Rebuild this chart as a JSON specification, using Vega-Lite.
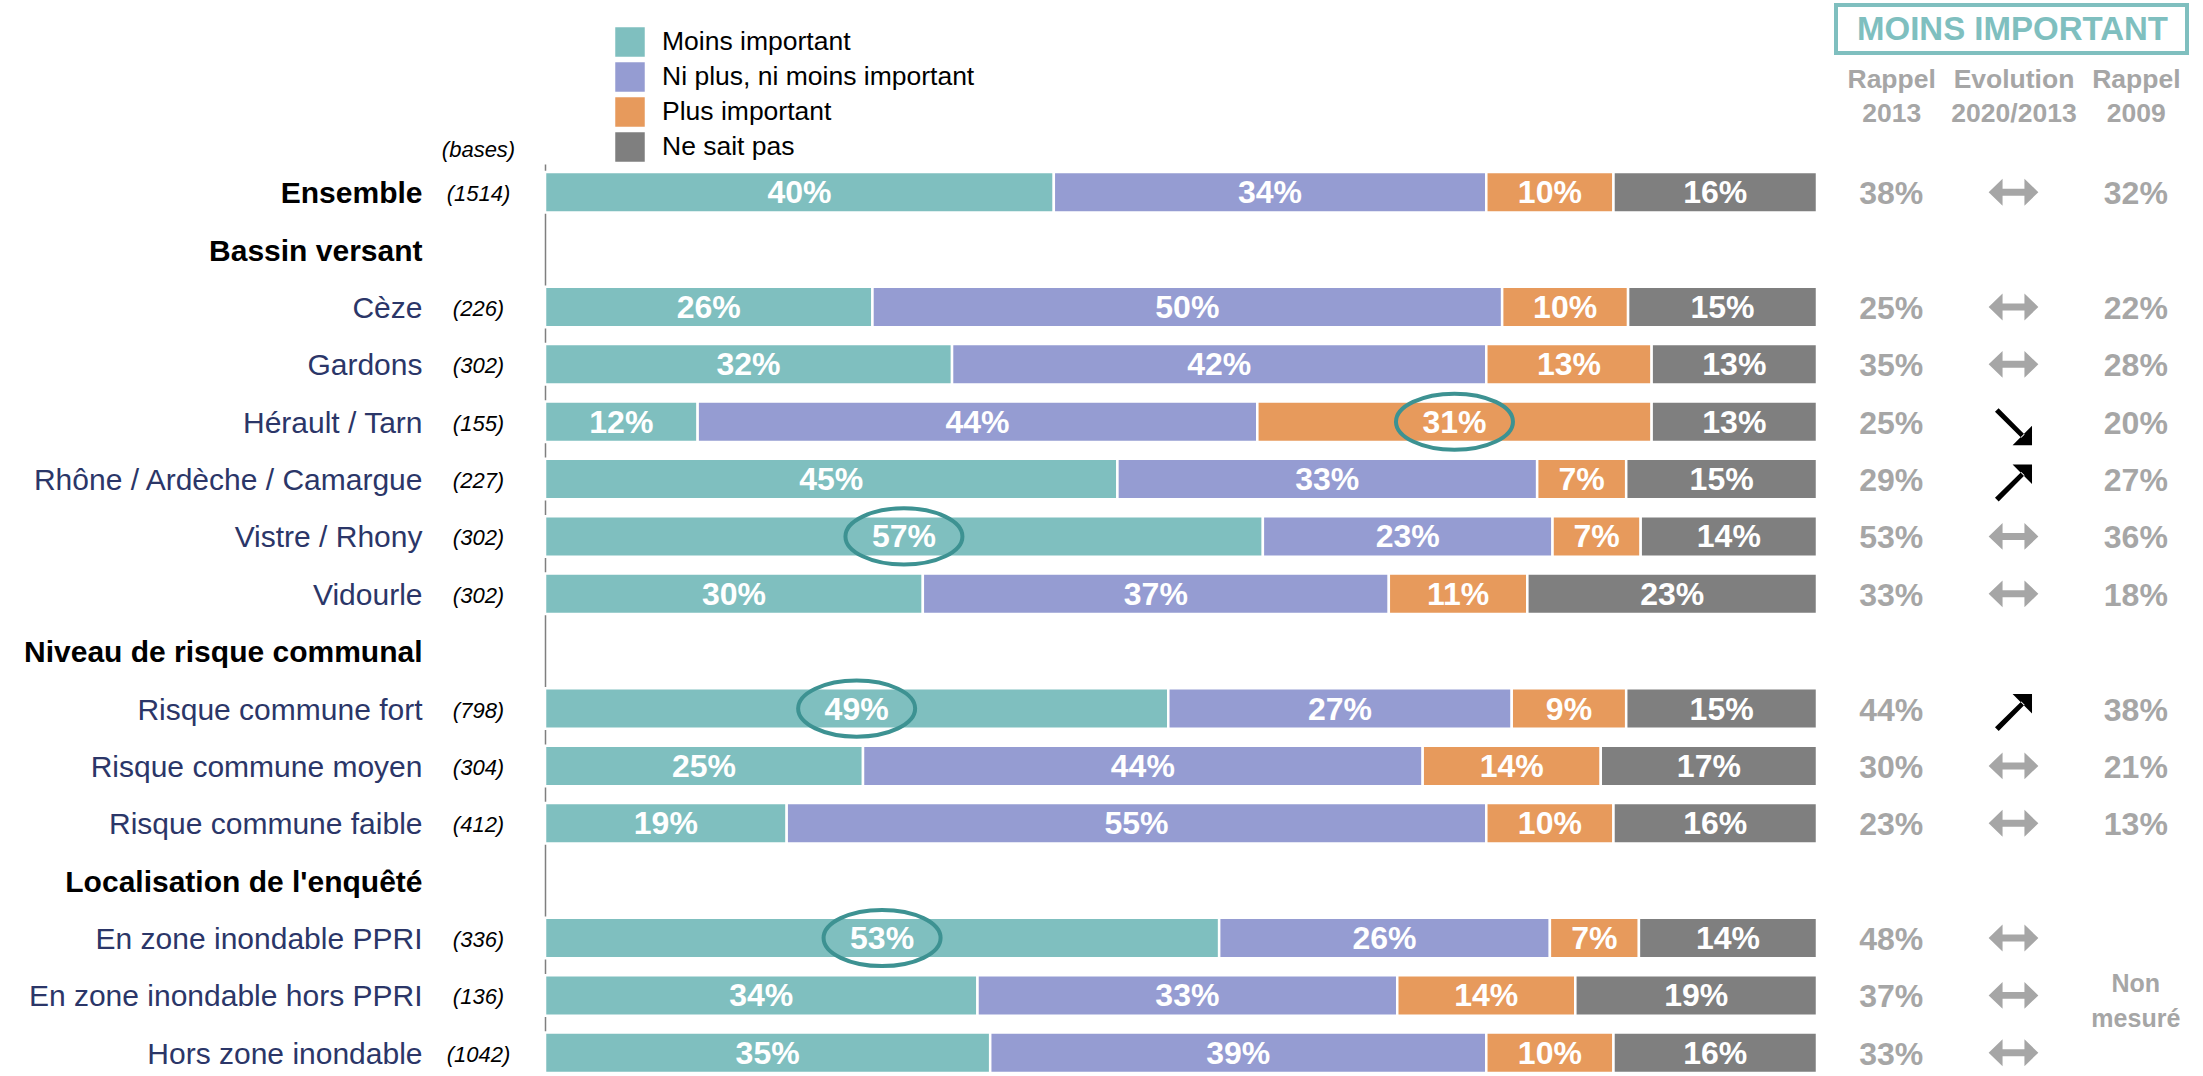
{
  "$schema": "https://vega.github.io/schema/vega-lite/v6.json",
  "width": 1272,
  "height": 909,
  "autosize": {"type": "none"},
  "padding": {"left": 545, "top": 164, "right": 386, "bottom": 3},
  "background": "white",
  "config": {
    "view": {"stroke": null},
    "font": "Liberation Sans",
    "legend": {"strokeWidth": 4}
  },
  "datasets": {
    "bars": [
      {"row": "Ensemble (1514)", "cat": "Moins important", "k": 1, "pct": 0.40},
      {"row": "Ensemble (1514)", "cat": "Ni plus, ni moins important", "k": 2, "pct": 0.34},
      {"row": "Ensemble (1514)", "cat": "Plus important", "k": 3, "pct": 0.10},
      {"row": "Ensemble (1514)", "cat": "Ne sait pas", "k": 4, "pct": 0.16},
      {"row": "Cèze (226)", "cat": "Moins important", "k": 1, "pct": 0.26},
      {"row": "Cèze (226)", "cat": "Ni plus, ni moins important", "k": 2, "pct": 0.50},
      {"row": "Cèze (226)", "cat": "Plus important", "k": 3, "pct": 0.10},
      {"row": "Cèze (226)", "cat": "Ne sait pas", "k": 4, "pct": 0.15},
      {"row": "Gardons (302)", "cat": "Moins important", "k": 1, "pct": 0.32},
      {"row": "Gardons (302)", "cat": "Ni plus, ni moins important", "k": 2, "pct": 0.42},
      {"row": "Gardons (302)", "cat": "Plus important", "k": 3, "pct": 0.13},
      {"row": "Gardons (302)", "cat": "Ne sait pas", "k": 4, "pct": 0.13},
      {"row": "Hérault / Tarn (155)", "cat": "Moins important", "k": 1, "pct": 0.12},
      {"row": "Hérault / Tarn (155)", "cat": "Ni plus, ni moins important", "k": 2, "pct": 0.44},
      {"row": "Hérault / Tarn (155)", "cat": "Plus important", "k": 3, "pct": 0.31, "sig": true},
      {"row": "Hérault / Tarn (155)", "cat": "Ne sait pas", "k": 4, "pct": 0.13},
      {"row": "Rhône / Ardèche / Camargue (227)", "cat": "Moins important", "k": 1, "pct": 0.45},
      {"row": "Rhône / Ardèche / Camargue (227)", "cat": "Ni plus, ni moins important", "k": 2, "pct": 0.33},
      {"row": "Rhône / Ardèche / Camargue (227)", "cat": "Plus important", "k": 3, "pct": 0.07},
      {"row": "Rhône / Ardèche / Camargue (227)", "cat": "Ne sait pas", "k": 4, "pct": 0.15},
      {"row": "Vistre / Rhony (302)", "cat": "Moins important", "k": 1, "pct": 0.57, "sig": true},
      {"row": "Vistre / Rhony (302)", "cat": "Ni plus, ni moins important", "k": 2, "pct": 0.23},
      {"row": "Vistre / Rhony (302)", "cat": "Plus important", "k": 3, "pct": 0.07},
      {"row": "Vistre / Rhony (302)", "cat": "Ne sait pas", "k": 4, "pct": 0.14},
      {"row": "Vidourle (302)", "cat": "Moins important", "k": 1, "pct": 0.30},
      {"row": "Vidourle (302)", "cat": "Ni plus, ni moins important", "k": 2, "pct": 0.37},
      {"row": "Vidourle (302)", "cat": "Plus important", "k": 3, "pct": 0.11},
      {"row": "Vidourle (302)", "cat": "Ne sait pas", "k": 4, "pct": 0.23},
      {"row": "Risque commune fort (798)", "cat": "Moins important", "k": 1, "pct": 0.49, "sig": true},
      {"row": "Risque commune fort (798)", "cat": "Ni plus, ni moins important", "k": 2, "pct": 0.27},
      {"row": "Risque commune fort (798)", "cat": "Plus important", "k": 3, "pct": 0.09},
      {"row": "Risque commune fort (798)", "cat": "Ne sait pas", "k": 4, "pct": 0.15},
      {"row": "Risque commune moyen (304)", "cat": "Moins important", "k": 1, "pct": 0.25},
      {"row": "Risque commune moyen (304)", "cat": "Ni plus, ni moins important", "k": 2, "pct": 0.44},
      {"row": "Risque commune moyen (304)", "cat": "Plus important", "k": 3, "pct": 0.14},
      {"row": "Risque commune moyen (304)", "cat": "Ne sait pas", "k": 4, "pct": 0.17},
      {"row": "Risque commune faible (412)", "cat": "Moins important", "k": 1, "pct": 0.19},
      {"row": "Risque commune faible (412)", "cat": "Ni plus, ni moins important", "k": 2, "pct": 0.55},
      {"row": "Risque commune faible (412)", "cat": "Plus important", "k": 3, "pct": 0.10},
      {"row": "Risque commune faible (412)", "cat": "Ne sait pas", "k": 4, "pct": 0.16},
      {"row": "En zone inondable PPRI (336)", "cat": "Moins important", "k": 1, "pct": 0.53, "sig": true},
      {"row": "En zone inondable PPRI (336)", "cat": "Ni plus, ni moins important", "k": 2, "pct": 0.26},
      {"row": "En zone inondable PPRI (336)", "cat": "Plus important", "k": 3, "pct": 0.07},
      {"row": "En zone inondable PPRI (336)", "cat": "Ne sait pas", "k": 4, "pct": 0.14},
      {"row": "En zone inondable hors PPRI (136)", "cat": "Moins important", "k": 1, "pct": 0.34},
      {"row": "En zone inondable hors PPRI (136)", "cat": "Ni plus, ni moins important", "k": 2, "pct": 0.33},
      {"row": "En zone inondable hors PPRI (136)", "cat": "Plus important", "k": 3, "pct": 0.14},
      {"row": "En zone inondable hors PPRI (136)", "cat": "Ne sait pas", "k": 4, "pct": 0.19},
      {"row": "Hors zone inondable (1042)", "cat": "Moins important", "k": 1, "pct": 0.35},
      {"row": "Hors zone inondable (1042)", "cat": "Ni plus, ni moins important", "k": 2, "pct": 0.39},
      {"row": "Hors zone inondable (1042)", "cat": "Plus important", "k": 3, "pct": 0.10},
      {"row": "Hors zone inondable (1042)", "cat": "Ne sait pas", "k": 4, "pct": 0.16}
    ],
    "rappel": [
      {"row": "Ensemble (1514)", "col": "Rappel 2013", "val": "38%"},
      {"row": "Ensemble (1514)", "col": "Evolution 2020/2013", "val": "stable"},
      {"row": "Ensemble (1514)", "col": "Rappel 2009", "val": "32%"},
      {"row": "Cèze (226)", "col": "Rappel 2013", "val": "25%"},
      {"row": "Cèze (226)", "col": "Evolution 2020/2013", "val": "stable"},
      {"row": "Cèze (226)", "col": "Rappel 2009", "val": "22%"},
      {"row": "Gardons (302)", "col": "Rappel 2013", "val": "35%"},
      {"row": "Gardons (302)", "col": "Evolution 2020/2013", "val": "stable"},
      {"row": "Gardons (302)", "col": "Rappel 2009", "val": "28%"},
      {"row": "Hérault / Tarn (155)", "col": "Rappel 2013", "val": "25%"},
      {"row": "Hérault / Tarn (155)", "col": "Evolution 2020/2013", "val": "baisse"},
      {"row": "Hérault / Tarn (155)", "col": "Rappel 2009", "val": "20%"},
      {"row": "Rhône / Ardèche / Camargue (227)", "col": "Rappel 2013", "val": "29%"},
      {"row": "Rhône / Ardèche / Camargue (227)", "col": "Evolution 2020/2013", "val": "hausse"},
      {"row": "Rhône / Ardèche / Camargue (227)", "col": "Rappel 2009", "val": "27%"},
      {"row": "Vistre / Rhony (302)", "col": "Rappel 2013", "val": "53%"},
      {"row": "Vistre / Rhony (302)", "col": "Evolution 2020/2013", "val": "stable"},
      {"row": "Vistre / Rhony (302)", "col": "Rappel 2009", "val": "36%"},
      {"row": "Vidourle (302)", "col": "Rappel 2013", "val": "33%"},
      {"row": "Vidourle (302)", "col": "Evolution 2020/2013", "val": "stable"},
      {"row": "Vidourle (302)", "col": "Rappel 2009", "val": "18%"},
      {"row": "Risque commune fort (798)", "col": "Rappel 2013", "val": "44%"},
      {"row": "Risque commune fort (798)", "col": "Evolution 2020/2013", "val": "hausse"},
      {"row": "Risque commune fort (798)", "col": "Rappel 2009", "val": "38%"},
      {"row": "Risque commune moyen (304)", "col": "Rappel 2013", "val": "30%"},
      {"row": "Risque commune moyen (304)", "col": "Evolution 2020/2013", "val": "stable"},
      {"row": "Risque commune moyen (304)", "col": "Rappel 2009", "val": "21%"},
      {"row": "Risque commune faible (412)", "col": "Rappel 2013", "val": "23%"},
      {"row": "Risque commune faible (412)", "col": "Evolution 2020/2013", "val": "stable"},
      {"row": "Risque commune faible (412)", "col": "Rappel 2009", "val": "13%"},
      {"row": "En zone inondable PPRI (336)", "col": "Rappel 2013", "val": "48%"},
      {"row": "En zone inondable PPRI (336)", "col": "Evolution 2020/2013", "val": "stable"},
      {"row": "En zone inondable hors PPRI (136)", "col": "Rappel 2013", "val": "37%"},
      {"row": "En zone inondable hors PPRI (136)", "col": "Evolution 2020/2013", "val": "stable"},
      {"row": "En zone inondable hors PPRI (136)", "col": "Rappel 2009", "val": "Non mesuré"},
      {"row": "Hors zone inondable (1042)", "col": "Rappel 2013", "val": "33%"},
      {"row": "Hors zone inondable (1042)", "col": "Evolution 2020/2013", "val": "stable"}
    ]
  },
  "layer": [
    {
      "data": {"name": "bars"},
      "encoding": {
        "y": {
          "field": "row",
          "type": "nominal",
          "scale": {
            "domain": ["Ensemble (1514)", "Bassin versant", "Cèze (226)", "Gardons (302)", "Hérault / Tarn (155)", "Rhône / Ardèche / Camargue (227)", "Vistre / Rhony (302)", "Vidourle (302)", "Niveau de risque communal", "Risque commune fort (798)", "Risque commune moyen (304)", "Risque commune faible (412)", "Localisation de l'enquêté", "En zone inondable PPRI (336)", "En zone inondable hors PPRI (136)", "Hors zone inondable (1042)"],
            "paddingInner": 0.294,
            "paddingOuter": 0.0697,
            "align": 1
          },
          "axis": {
            "orient": "left",
            "title": null,
            "ticks": false,
            "tickSize": 0,
            "grid": false,
            "domain": true,
            "domainColor": "#7f7f7f",
            "domainWidth": 1.5,
            "labelPadding": 123,
            "labelFontSize": 30,
            "labelFont": "Liberation Sans",
            "labelLimit": 1000,
            "labelBaseline": "middle",
            "labelOffset": 2,
            "labelExpr": "indexof(datum.value, ' (') > 0 ? slice(datum.value, 0, indexof(datum.value, ' (')) : datum.value",
            "labelColor": {"condition": {"test": "indexof(datum.value, ' (') < 0 || indexof(datum.value, 'Ensemble') == 0", "value": "#000000"}, "value": "#2b3668"},
            "labelFontWeight": {"condition": {"test": "indexof(datum.value, ' (') < 0 || indexof(datum.value, 'Ensemble') == 0", "value": "bold"}, "value": "normal"}
          }
        },
        "x": {"field": "pct", "type": "quantitative", "stack": "normalize", "axis": null, "scale": {"domain": [0, 1], "nice": false}},
        "order": {"field": "k", "type": "quantitative"}
      },
      "layer": [
        {
          "mark": {"type": "bar", "stroke": "white", "strokeWidth": 2.5},
          "encoding": {
            "color": {
              "field": "cat",
              "type": "nominal",
              "scale": {
                "domain": ["Moins important", "Ni plus, ni moins important", "Plus important", "Ne sait pas"],
                "range": ["#7fbfbf", "#959cd2", "#e79a5c", "#7f7f7f"]
              },
              "legend": {
                "orient": "none",
                "legendX": 70,
                "legendY": -137,
                "title": null,
                "direction": "vertical",
                "symbolType": "square",
                "symbolSize": 870,
                "symbolStrokeWidth": 0,
                "symbolOpacity": 1,
                "labelFontSize": 26.5,
                "labelFont": "Liberation Sans",
                "labelColor": "#000000",
                "labelOffset": 17,
                "labelLimit": 1000,
                "rowPadding": 5,
                "padding": 0
              }
            }
          }
        },
        {
          "mark": {"type": "text", "color": "white", "fontSize": 32, "fontWeight": "bold", "baseline": "middle", "dy": 1},
          "encoding": {
            "x": {"field": "pct", "type": "quantitative", "stack": "normalize", "bandPosition": 0.5},
            "detail": {"field": "cat"},
            "text": {"field": "pct", "type": "quantitative", "format": ".0%"}
          }
        },
        {
          "mark": {
            "type": "point",
            "filled": false,
            "color": "#3d9292",
            "strokeWidth": 4,
            "size": 13689,
            "shape": "M -1 0 C -1 -0.265 -0.552 -0.48 0 -0.48 C 0.552 -0.48 1 -0.265 1 0 C 1 0.265 0.552 0.48 0 0.48 C -0.552 0.48 -1 0.265 -1 0 Z"
          },
          "encoding": {
            "x": {"field": "pct", "type": "quantitative", "stack": "normalize", "bandPosition": 0.5},
            "detail": {"field": "cat"},
            "opacity": {"condition": {"test": "datum.sig", "value": 1}, "value": 0}
          }
        }
      ]
    },
    {
      "data": {"name": "rappel"},
      "encoding": {
        "y": {
          "field": "row",
          "type": "nominal",
          "scale": {
            "domain": ["Ensemble (1514)", "Bassin versant", "Cèze (226)", "Gardons (302)", "Hérault / Tarn (155)", "Rhône / Ardèche / Camargue (227)", "Vistre / Rhony (302)", "Vidourle (302)", "Niveau de risque communal", "Risque commune fort (798)", "Risque commune moyen (304)", "Risque commune faible (412)", "Localisation de l'enquêté", "En zone inondable PPRI (336)", "En zone inondable hors PPRI (136)", "Hors zone inondable (1042)"],
            "paddingInner": 0.294,
            "paddingOuter": 0.0697,
            "align": 1
          },
          "axis": {
            "orient": "left",
            "title": "(bases)",
            "titleAngle": 0,
            "titleX": -67,
            "titleY": -15,
            "titleAlign": "center",
            "titleBaseline": "middle",
            "titleFontSize": 22,
            "titleFontStyle": "italic",
            "titleFontWeight": "normal",
            "titleColor": "#000000",
            "ticks": false,
            "tickSize": 0,
            "grid": false,
            "domain": false,
            "labelPadding": 67,
            "labelAlign": "center",
            "labelBaseline": "middle",
            "labelOffset": 2,
            "labelFontSize": 22,
            "labelFontStyle": "italic",
            "labelColor": "#000000",
            "labelLimit": 1000,
            "labelExpr": "indexof(datum.value, ' (') > 0 ? slice(datum.value, indexof(datum.value, ' (') + 1) : ''"
          }
        },
        "x": {
          "field": "col",
          "type": "nominal",
          "scale": {"type": "point", "domain": ["Rappel 2013", "Evolution 2020/2013", "Rappel 2009"], "range": [1285, 1652], "padding": 0.5},
          "axis": {
            "orient": "top",
            "title": "MOINS IMPORTANT",
            "titleX": 1467,
            "titleY": -125,
            "titleAlign": "center",
            "titleBaseline": "alphabetic",
            "titleAngle": 0,
            "titleFontSize": 33,
            "titleFontWeight": "bold",
            "titleColor": "#7fbfbf",
            "ticks": false,
            "tickSize": 0,
            "domain": false,
            "grid": false,
            "labelAngle": 0,
            "labelExpr": "split(datum.value, ' ')",
            "labelFontSize": 26.5,
            "labelFontWeight": "bold",
            "labelColor": "#a6a6a6",
            "labelLineHeight": 34.4,
            "labelPadding": 71,
            "labelBaseline": "bottom",
            "labelLimit": 1000,
            "labelOverlap": false
          }
        }
      },
      "layer": [
        {
          "transform": [{"filter": "datum.col != 'Evolution 2020/2013' && datum.val != 'Non mesuré'"}],
          "mark": {"type": "text", "fontWeight": "bold", "fontSize": 32, "color": "#a6a6a6", "strokeWidth": 0, "baseline": "middle", "dy": 2},
          "encoding": {
            "text": {"field": "val", "type": "nominal"},
            "stroke": {
              "datum": "MOINS IMPORTANT",
              "type": "nominal",
              "scale": {"range": ["#7fbfbf"]},
              "legend": {
                "orient": "none",
                "legendX": 1291,
                "legendY": -159,
                "title": null,
                "padding": 7,
                "strokeColor": "#7fbfbf",
                "symbolOpacity": 0,
                "symbolSize": 100,
                "symbolStrokeWidth": 0,
                "labelOffset": 304,
                "labelFontSize": 33,
                "labelFontWeight": "bold",
                "labelColor": "#7fbfbf",
                "labelOpacity": 0,
                "labelExpr": "'\u00a0'",
                "labelFont": "Liberation Sans",
                "labelLimit": 1000
              }
            }
          }
        },
        {
          "transform": [{"filter": "datum.val == 'Non mesuré'"}],
          "mark": {"type": "text", "fontWeight": "bold", "fontSize": 25, "color": "#a6a6a6", "lineBreak": " ", "lineHeight": 35, "baseline": "middle", "dy": -11},
          "encoding": {
            "text": {"field": "val", "type": "nominal"}
          }
        },
        {
          "transform": [{"filter": "datum.col == 'Evolution 2020/2013'"}],
          "mark": {"type": "point", "filled": true, "size": 2470, "strokeWidth": 0, "opacity": 1},
          "encoding": {
            "shape": {
              "field": "val",
              "type": "nominal",
              "scale": {
                "domain": ["stable", "hausse", "baisse"],
                "range": [
                  "M -1 0 L -0.44 -0.54 L -0.44 -0.14 L 0.44 -0.14 L 0.44 -0.54 L 1 0 L 0.44 0.54 L 0.44 0.14 L -0.44 0.14 L -0.44 0.54 Z",
                  "M -0.596 0.905 L 0.447 -0.153 L 0.313 -0.287 L -0.745 0.756 Z M 0.745 -0.585 L 0.745 0.197 L -0.037 -0.585 Z",
                  "M -0.6 -0.545 L 0.447 0.513 L 0.313 0.647 L -0.745 -0.4 Z M 0.745 0.945 L 0.745 0.163 L -0.037 0.945 Z"
                ]
              },
              "legend": null
            },
            "fill": {
              "field": "val",
              "type": "nominal",
              "scale": {"domain": ["stable", "hausse", "baisse"], "range": ["#a6a6a6", "#000000", "#000000"]},
              "legend": null
            }
          }
        }
      ]
    }
  ],
  "resolve": {"scale": {"x": "independent"}, "axis": {"y": "independent"}}
}
